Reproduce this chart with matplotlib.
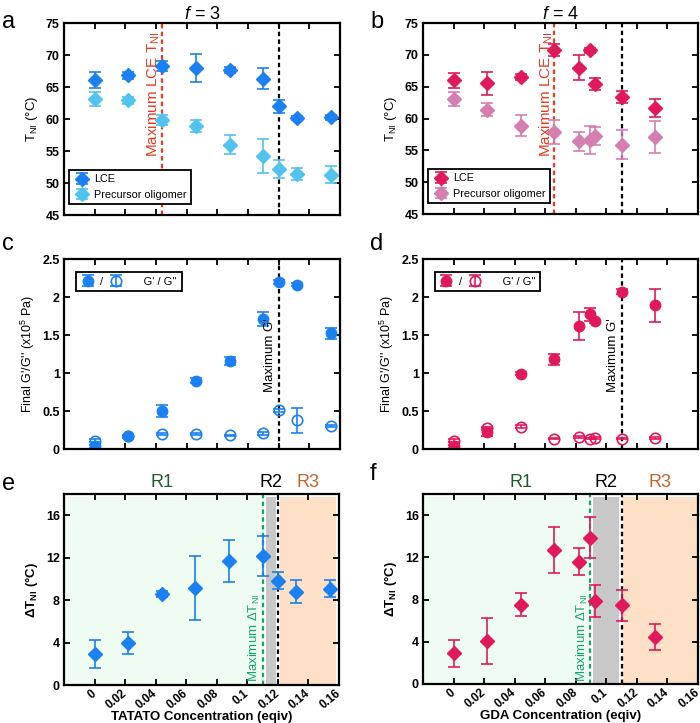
import numpy as np
import matplotlib
matplotlib.use('Agg')
import matplotlib.pyplot as plt

plt.rcParams['font.family'] = ['Liberation Sans', 'DejaVu Sans']
plt.rcParams['mathtext.fontset'] = 'custom'
plt.rcParams['mathtext.rm'] = 'Liberation Sans'
plt.rcParams['mathtext.it'] = 'Liberation Sans:italic'
plt.rcParams['mathtext.bf'] = 'Liberation Sans:bold'

# concentrations (eqiv)
x_tatato = [0, 0.022, 0.044, 0.066, 0.088, 0.11, 0.12, 0.132, 0.154]
x_gda = [0, 0.022, 0.044, 0.066, 0.082, 0.0895, 0.0925, 0.11, 0.132]

# T_NI, f = 3
tni3_lce = [66.1, 66.8, 68.3, 68.0, 67.7, 66.3, 62.0, 60.2, 60.3]
tni3_lce_err = [1.2, 0.5, 0.8, 2.2, 0.5, 1.6, 1.0, 0.3, 0.4]
tni3_pre = [63.1, 62.9, 59.8, 58.9, 56.0, 54.2, 52.2, 51.4, 51.3]
tni3_pre_err = [1.1, 0.6, 0.8, 1.0, 1.5, 2.6, 1.4, 1.0, 1.3]

# T_NI, f = 4
tni4_lce = [66.0, 65.5, 66.5, 70.7, 68.0, 70.7, 65.4, 63.4, 61.6]
tni4_lce_err = [1.15, 1.8, 0.5, 0.95, 2.0, 0.4, 0.95, 0.95, 1.4]
tni4_pre = [63.1, 61.4, 58.9, 57.9, 56.4, 56.7, 57.2, 55.9, 57.1]
tni4_pre_err = [1.1, 1.0, 1.6, 1.9, 1.5, 2.2, 1.4, 2.3, 2.5]

# final G' / G'' (x10^5 Pa)
g1_3 = [0.035, 0.167, 0.5, 0.9, 1.16, 1.71, 2.2, 2.16, 1.52]
g1_3_err = [0.02, 0.02, 0.075, 0.03, 0.05, 0.09, 0.03, 0.02, 0.075]
g2_3 = [0.11, 0.17, 0.197, 0.197, 0.18, 0.21, 0.51, 0.377, 0.30]
g2_3_err = [0.02, 0.01, 0.01, 0.01, 0.01, 0.02, 0.02, 0.16, 0.01]
g1_4 = [0.035, 0.22, 0.99, 1.18, 1.62, 1.77, 1.68, 2.07, 1.89]
g1_4_err = [0.02, 0.05, 0.02, 0.07, 0.18, 0.08, 0.02, 0.03, 0.22]
g2_4 = [0.11, 0.27, 0.29, 0.136, 0.158, 0.136, 0.145, 0.136, 0.145]
g2_4_err = [0.02, 0.02, 0.02, 0.01, 0.01, 0.01, 0.01, 0.01, 0.01]

# delta T_NI
dt3 = [2.9, 3.95, 8.57, 9.15, 11.7, 12.15, 9.83, 8.8, 9.08]
dt3_err = [1.3, 1.0, 0.3, 3.0, 1.95, 1.9, 0.8, 1.1, 0.8]
dt4 = [2.9, 4.05, 7.5, 12.7, 11.6, 13.85, 7.86, 7.45, 4.48]
dt4_err = [1.3, 2.2, 1.1, 2.2, 1.25, 1.95, 1.5, 1.5, 1.25]

# regions R1 / R2 / R3 (x bounds)
reg3 = [(-0.0195, 0.1105), (0.1125, 0.1185), (0.1215, 0.158)]
reg4 = [(-0.0195, 0.0890), (0.0915, 0.1085), (0.1110, 0.1595)]

blue = '#1b80f2'
lblue = '#52c2ef'
pink = '#e0195c'
lpink = '#d47fb0'
red = '#e83a1e'
green = '#15a36c'

W, H = 700, 723
fig = plt.figure(figsize=(7, 7.23), dpi=100)


def box(l, r, t, b):
    return fig.add_axes([l / W, 1 - b / H, (r - l) / W, (b - t) / H])


ax_a = box(64, 340, 23, 215)
ax_b = box(423, 698, 23, 214)
ax_c = box(64, 340, 259, 449)
ax_d = box(423, 698, 259, 449)
ax_e = box(64, 339, 494, 685)
ax_f = box(423, 698, 494, 684)

xt = np.round(np.arange(0, 0.161, 0.02), 2)
for ax in [ax_a, ax_b, ax_c, ax_d, ax_e, ax_f]:
    ax.set_xlim(-0.02, 0.16)
    ax.set_xticks(xt)
    ax.tick_params(direction='in', top=True, right=True, length=4.5, width=1.3,
                   labelsize=9, pad=3)
    for s in ax.spines.values():
        s.set_linewidth(1.6)
for ax in [ax_a, ax_b, ax_c, ax_d]:
    ax.set_xticklabels([])

ekw = dict(capsize=4, elinewidth=1.2, capthick=1.2, linestyle='none')


def vtext(ax, x, y, s, color, size):
    ax.annotate(s, (x, y), xytext=(-6, 0), textcoords='offset points',
                rotation=90, ha='center', va='top', color=color, fontsize=size)


# panel letters
for s, px, py in [('a', 2, 28), ('b', 370, 28), ('c', 2, 250),
                  ('d', 370, 250), ('e', 2, 490), ('f', 370, 480)]:
    fig.text(px / W, 1 - py / H, s, fontsize=17, va='baseline')

# a / b : T_NI
for ax, x, l, le, p, pe, c1, c2, xr, xb, title in [
        (ax_a, x_tatato, tni3_lce, tni3_lce_err, tni3_pre, tni3_pre_err,
         blue, lblue, x_tatato[2], x_tatato[6], '$f$ = 3'),
        (ax_b, x_gda, tni4_lce, tni4_lce_err, tni4_pre, tni4_pre_err,
         pink, lpink, x_gda[3], x_gda[7], '$f$ = 4')]:
    ax.axvline(xr, color=red, ls=(0, (2, 1.5)), lw=1.6, zorder=1)
    ax.axvline(xb, color='black', ls=(0, (2, 1.5)), lw=1.6, zorder=1)
    h1 = ax.errorbar(x, l, yerr=le, marker='D', ms=7, color=c1, **ekw)
    h2 = ax.errorbar(x, p, yerr=pe, marker='D', ms=7, color=c2, **ekw)
    ax.set_ylim(45, 75)
    ax.set_yticks(range(45, 76, 5))
    ax.set_yticklabels([str(v) for v in range(45, 76, 5)], fontweight='bold')
    ax.set_ylabel('T$_{\\mathregular{NI}}$ (°C)', fontsize=9.5)
    vtext(ax, xr, 73.6, 'Maximum LCE T$_{\\mathregular{NI}}$', red, 11)
    leg = ax.legend([h1, h2], ['LCE', 'Precursor oligomer'], loc='lower left',
                    fontsize=7.8, fancybox=False, edgecolor='black',
                    framealpha=1, borderpad=0.4, handletextpad=0.3,
                    handlelength=1.6, borderaxespad=0,
                    bbox_to_anchor=(0.018, 0.057))
    leg.get_frame().set_linewidth(1.3)
    ax.set_title(title, fontsize=13, pad=3)

# c / d : G' / G''
for ax, x, g1, g1e, g2, g2e, c, xb in [
        (ax_c, x_tatato, g1_3, g1_3_err, g2_3, g2_3_err, blue, x_tatato[6]),
        (ax_d, x_gda, g1_4, g1_4_err, g2_4, g2_4_err, pink, x_gda[7])]:
    ax.axvline(xb, color='black', ls=(0, (2, 1.5)), lw=1.6, zorder=1)
    h1 = ax.errorbar(x, g1, yerr=g1e, marker='o', ms=7.5, color=c, **ekw)
    h2 = ax.errorbar(x, g2, yerr=g2e, marker='o', ms=7.5, color=c, mfc='none',
                     mew=1.2, **ekw)
    ax.set_ylim(0, 2.5)
    ax.set_yticks([0, 0.5, 1, 1.5, 2, 2.5])
    ax.set_yticklabels(['0', '0.5', '1', '1.5', '2', '2.5'], fontweight='bold')
    ax.set_ylabel("Final G'/G'' (x10$^{\\mathregular{5}}$ Pa)", fontsize=9)
    vtext(ax, xb, 1.72, "Maximum G'", 'black', 9.5)
    leg = ax.legend([h1, h2], ['/', "     G' / G''"], loc='upper left', ncol=2,
                    fontsize=8, fancybox=False, edgecolor='black',
                    framealpha=1, handlelength=1.2, handletextpad=0.5,
                    columnspacing=0.6, borderaxespad=0,
                    bbox_to_anchor=(0.045, 0.93))
    leg.get_frame().set_linewidth(1.3)

# e / f : delta T_NI
for ax, x, d, de, c, reg, xg, xb, xlabel in [
        (ax_e, x_tatato, dt3, dt3_err, blue, reg3, x_tatato[5], x_tatato[6],
         'TATATO Concentration (eqiv)'),
        (ax_f, x_gda, dt4, dt4_err, pink, reg4, x_gda[5], x_gda[7],
         'GDA Concentration (eqiv)')]:
    for (x0, x1), fc in zip(reg, ['#effcf1', '#c8c8c8', '#fde0c5']):
        ax.fill_between([x0, x1], 0, 17.7, color=fc, lw=0, zorder=0)
    ax.axvline(xg, color=green, ls=(0, (2, 1.5)), lw=1.6, zorder=1)
    ax.axvline(xb, color='black', ls=(0, (2, 1.5)), lw=1.6, zorder=1)
    ax.errorbar(x, d, yerr=de, marker='D', ms=7, color=c, zorder=3, **ekw)
    ax.set_ylim(0, 18)
    ax.set_yticks([0, 4, 8, 12, 16])
    ax.set_yticklabels(['0', '4', '8', '12', '16'], fontweight='bold')
    ax.set_xticklabels(['0', '0.02', '0.04', '0.06', '0.08', '0.1', '0.12',
                        '0.14', '0.16'], rotation=40, fontweight='bold',
                       ha='right', va='center', rotation_mode='anchor',
                       fontsize=8.5)
    ax.tick_params(axis='x', pad=5)
    ax.set_ylabel('ΔT$_{\\mathregular{NI}}$ (°C)', fontsize=9.5, fontweight='bold')
    ax.set_xlabel(xlabel, fontsize=9.5, fontweight='bold', labelpad=0)
    vtext(ax, xg, 8.6, 'Maximum ΔT$_{\\mathregular{NI}}$', green, 9.5)
    for (x0, x1), name, col in zip(reg, ['R1', 'R2', 'R3'],
                                   ['#1d5a2c', 'black', '#c0662a']):
        xm = 0.044 if name == 'R1' else (x0 + x1) / 2
        ax.text(xm, 18.3, name, ha='center', va='bottom', fontsize=13, color=col)

fig.savefig('out.png', dpi=100)
